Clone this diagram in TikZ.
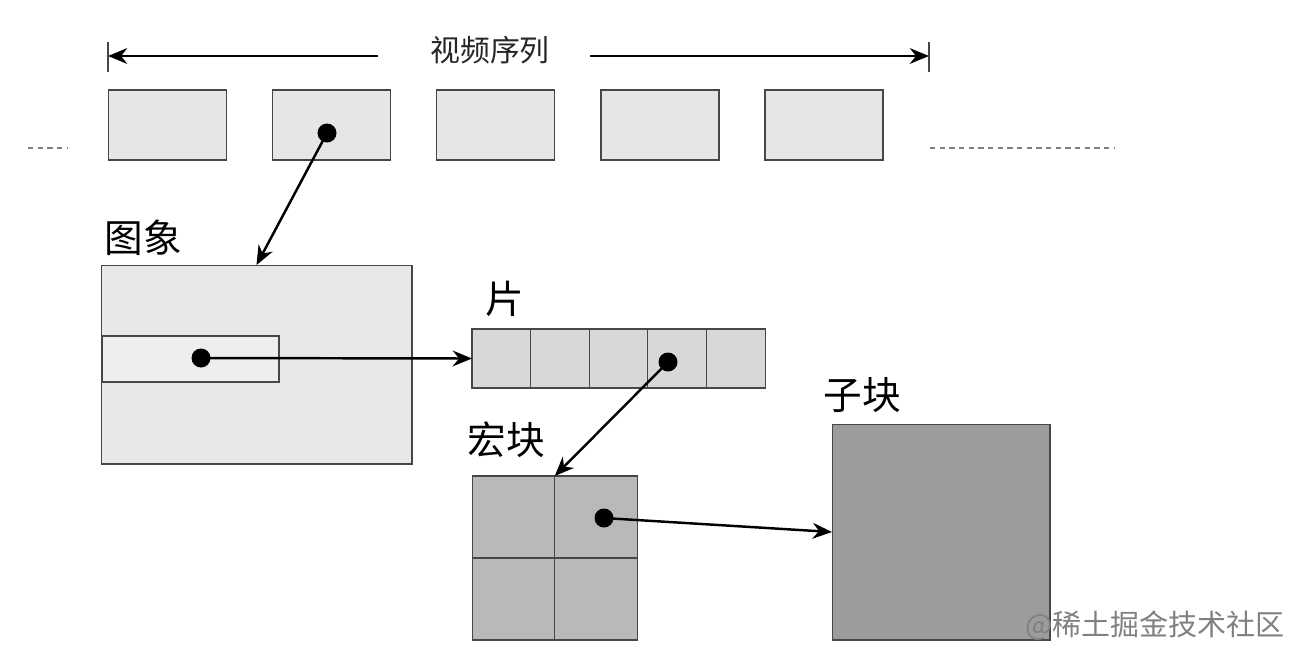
\documentclass[tikz,border=0pt]{standalone}
\usepackage{fontspec}
\newfontfamily\cjk{Noto Sans CJK SC}
\usetikzlibrary{arrows.meta}
\definecolor{framegray}{HTML}{E6E6E6}
\definecolor{imggray}{HTML}{E8E8E8}
\definecolor{rowgray}{HTML}{EEEEEE}
\definecolor{cellgray}{HTML}{D8D8D8}
\definecolor{mbgray}{HTML}{B9B9B9}
\definecolor{subgray}{HTML}{9C9C9C}
\definecolor{edgegray}{HTML}{474747}
\begin{document}
\begin{tikzpicture}[x=0.02cm, y=-0.02cm,
	box/.style={draw=edgegray, line width=0.6pt, inner sep=0pt, outer sep=0pt},
	frame/.style={box, fill=framegray, minimum width=2.36cm, minimum height=1.4cm},
	cell/.style={box, fill=cellgray, minimum width=1.172cm, minimum height=1.18cm},
	mb/.style={box, fill=mbgray, minimum width=1.65cm, minimum height=1.64cm},
	lbl/.style={font=\cjk\fontsize{22}{22}\selectfont, inner sep=0pt},
	link/.style={-{Stealth[length=11pt,width=9pt]}, line width=1.4pt},
	dot/.style={fill=black}]
	\useasboundingbox (0,0) rectangle (1304,660);

	% video sequence
	\node [font=\cjk\fontsize{17}{17}\selectfont, text=black!85, inner sep=0pt] (title) at (490,50) {视频序列};
	\coordinate (lt) at (108,56);
	\coordinate (rt) at (929,56);
	\coordinate (ls) at (378,56);
	\coordinate (rs) at (590,56);
	\draw [edgegray, line width=0.6pt] (lt) ++(0,-14) -- ++(0,30);
	\draw [edgegray, line width=0.6pt] (rt) ++(0,-14) -- ++(0,30);
	\draw [link, line width=0.8pt] (ls) -- (lt);
	\draw [link, line width=0.8pt] (rs) -- (rt);

	\node [frame] (f1) at (167.5,125) {};
	\node [frame] (f2) at (331.5,125) {};
	\node [frame] (f3) at (495.5,125) {};
	\node [frame] (f4) at (660,125) {};
	\node [frame] (f5) at (824,125) {};
	\draw [gray, line width=0.6pt, dash pattern=on 3pt off 2.5pt] (28,148) -- (67,148);
	\draw [gray, line width=0.6pt, dash pattern=on 3pt off 2.5pt] (930,148) -- (1115,148);

	% picture
	\node [lbl] (imglbl) at (143,238) {图象};
	\node [box, fill=imggray, minimum width=6.22cm, minimum height=3.98cm] (img) at (256.5,364.5) {};
	\node [box, fill=rowgray, minimum width=3.54cm, minimum height=0.92cm] (row) at (190.5,359) {};

	% slice
	\node [lbl] (slicelbl) at (505,299) {片};
	\node [cell] (c1) at (501.3,358.5) {};
	\node [cell] (c2) at (560,358.5) {};
	\node [cell] (c3) at (618.6,358.5) {};
	\node [cell] (c4) at (677.2,358.5) {};
	\node [cell] (c5) at (735.8,358.5) {};

	% macroblock
	\node [lbl] (mblbl) at (506,440) {宏块};
	\node [mb] (mb1) at (513.5,517) {};
	\node [mb] (mb2) at (596,517) {};
	\node [mb] (mb3) at (513.5,599) {};
	\node [mb] (mb4) at (596,599) {};

	% sub-block
	\node [lbl] (sublbl) at (862,395) {子块};
	\node [box, fill=subgray, minimum width=4.36cm, minimum height=4.32cm] (sub) at (941,532) {};

	% links
	\coordinate (d1) at (327,133);
	\coordinate (d2) at (201,358);
	\coordinate (d3) at (668,362);
	\coordinate (d4) at (604,518);
	\draw [link] (d1) -- (img.north);
	\draw [link] (d2) -- (c1.west);
	\draw [link] (d3) -- (mb1.north east);
	\draw [link] (d4) -- (sub.west);
	\fill [dot] (d1) circle (0.19cm);
	\fill [dot] (d2) circle (0.19cm);
	\fill [dot] (d3) circle (0.19cm);
	\fill [dot] (d4) circle (0.19cm);

	\node [font=\cjk\fontsize{16.5}{16.5}\selectfont, text=black!50, inner sep=0pt, anchor=west] (mark) at (1025,626) {@稀土掘金技术社区};
\end{tikzpicture}
\end{document}
